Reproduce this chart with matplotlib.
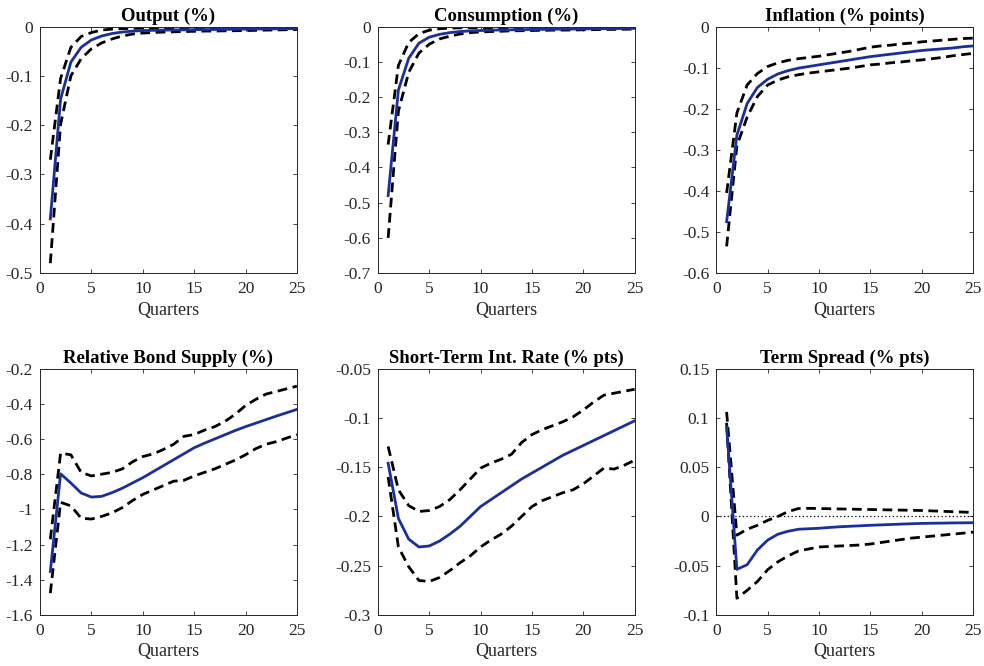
import numpy as np
import matplotlib.pyplot as plt

plt.rcParams["font.family"] = ["Liberation Serif", "DejaVu Serif"]

quarters = np.arange(1, 26)

# impulse responses: median and 90% bands
output_mid = [-0.39, -0.147, -0.072, -0.042, -0.027, -0.019, -0.014, -0.011, -0.009, -0.008,
              -0.0075, -0.007, -0.0068, -0.0065, -0.0062, -0.006, -0.0058, -0.0055, -0.0053, -0.005,
              -0.0048, -0.0046, -0.0044, -0.0042, -0.004]
output_hi = [-0.27, -0.105, -0.042, -0.02, -0.012, -0.007, -0.005, -0.004, -0.0035, -0.003,
             -0.003, -0.003, -0.003, -0.003, -0.003, -0.003, -0.003, -0.003, -0.003, -0.003,
             -0.003, -0.003, -0.003, -0.003, -0.003]
output_lo = [-0.48, -0.198, -0.1, -0.065, -0.045, -0.033, -0.025, -0.019, -0.015, -0.013,
             -0.012, -0.011, -0.0105, -0.01, -0.0095, -0.009, -0.0088, -0.0085, -0.0082, -0.008,
             -0.0075, -0.007, -0.0067, -0.0063, -0.006]

cons_mid = [-0.48, -0.18, -0.09, -0.047, -0.03, -0.022, -0.017, -0.014, -0.012, -0.011,
            -0.01, -0.0095, -0.009, -0.0085, -0.008, -0.0078, -0.0075, -0.007, -0.0068, -0.0065,
            -0.006, -0.0058, -0.0055, -0.0052, -0.005]
cons_hi = [-0.335, -0.11, -0.045, -0.02, -0.01, -0.006, -0.004, -0.0035, -0.003, -0.003,
           -0.003, -0.003, -0.003, -0.003, -0.003, -0.003, -0.003, -0.003, -0.003, -0.003,
           -0.003, -0.003, -0.003, -0.003, -0.003]
cons_lo = [-0.6, -0.24, -0.13, -0.075, -0.05, -0.035, -0.027, -0.021, -0.017, -0.015,
           -0.014, -0.013, -0.012, -0.0115, -0.011, -0.0105, -0.01, -0.0098, -0.0095, -0.009,
           -0.0085, -0.008, -0.0078, -0.0074, -0.007]

infl_mid = [-0.475, -0.264, -0.187, -0.148, -0.128, -0.115, -0.107, -0.101, -0.097, -0.093,
            -0.089, -0.085, -0.081, -0.077, -0.073, -0.07, -0.067, -0.064, -0.061, -0.058,
            -0.056, -0.054, -0.052, -0.049, -0.047]
infl_hi = [-0.405, -0.21, -0.142, -0.114, -0.097, -0.088, -0.082, -0.078, -0.075, -0.072,
           -0.068, -0.064, -0.06, -0.055, -0.05, -0.047, -0.045, -0.042, -0.04, -0.037,
           -0.035, -0.033, -0.031, -0.029, -0.028]
infl_lo = [-0.535, -0.29, -0.22, -0.17, -0.142, -0.13, -0.122, -0.117, -0.113, -0.11,
           -0.107, -0.104, -0.101, -0.097, -0.093, -0.091, -0.088, -0.086, -0.083, -0.081,
           -0.078, -0.075, -0.071, -0.068, -0.065]

bond_mid = [-1.353, -0.798, -0.85, -0.907, -0.93, -0.926, -0.905, -0.88, -0.85, -0.82,
            -0.786, -0.752, -0.718, -0.684, -0.65, -0.624, -0.6, -0.576, -0.552, -0.53,
            -0.51, -0.49, -0.47, -0.451, -0.432]
bond_hi = [-1.17, -0.68, -0.69, -0.79, -0.81, -0.8, -0.79, -0.77, -0.73, -0.7,
           -0.685, -0.66, -0.63, -0.585, -0.575, -0.55, -0.53, -0.5, -0.46, -0.41,
           -0.375, -0.345, -0.33, -0.315, -0.3]
bond_lo = [-1.476, -0.96, -0.98, -1.05, -1.055, -1.04, -1.02, -0.99, -0.95, -0.915,
           -0.89, -0.865, -0.84, -0.835, -0.81, -0.79, -0.77, -0.745, -0.72, -0.69,
           -0.655, -0.63, -0.615, -0.595, -0.575]

rate_mid = [-0.146, -0.202, -0.223, -0.231, -0.23, -0.225, -0.218, -0.21, -0.2, -0.19,
            -0.183, -0.176, -0.169, -0.162, -0.156, -0.15, -0.144, -0.138, -0.133, -0.128,
            -0.123, -0.118, -0.113, -0.108, -0.103]
rate_hi = [-0.129, -0.173, -0.189, -0.195, -0.194, -0.19, -0.183, -0.173, -0.162, -0.151,
           -0.146, -0.142, -0.137, -0.125, -0.117, -0.112, -0.108, -0.104, -0.099, -0.092,
           -0.084, -0.077, -0.075, -0.073, -0.071]
rate_lo = [-0.16, -0.231, -0.251, -0.265, -0.266, -0.262, -0.255, -0.247, -0.24, -0.231,
           -0.224, -0.218, -0.21, -0.2, -0.19, -0.184, -0.18, -0.176, -0.173, -0.167,
           -0.159, -0.151, -0.152, -0.148, -0.143]

spread_mid = [0.091, -0.0537, -0.049, -0.034, -0.024, -0.018, -0.015, -0.013, -0.0125, -0.012,
              -0.0112, -0.0105, -0.01, -0.0095, -0.009, -0.0086, -0.0082, -0.0078, -0.0074, -0.0071,
              -0.0069, -0.0068, -0.0066, -0.0065, -0.0064]
spread_hi = [0.106, -0.019, -0.013, -0.009, -0.004, 0.0, 0.005, 0.008, 0.0082, 0.008,
             0.0078, 0.0076, 0.0074, 0.0072, 0.007, 0.0068, 0.0066, 0.0064, 0.0062, 0.006,
             0.0056, 0.0052, 0.0048, 0.0044, 0.004]
spread_lo = [0.095, -0.083, -0.075, -0.066, -0.054, -0.046, -0.04, -0.035, -0.033, -0.031,
             -0.0305, -0.03, -0.0295, -0.029, -0.028, -0.0265, -0.025, -0.0235, -0.022, -0.021,
             -0.02, -0.019, -0.018, -0.017, -0.016]

titles = ["Output (%)", "Consumption (%)", "Inflation (% points)",
          "Relative Bond Supply (%)", "Short-Term Int. Rate (% pts)", "Term Spread (% pts)"]
series = [(output_mid, output_hi, output_lo), (cons_mid, cons_hi, cons_lo),
          (infl_mid, infl_hi, infl_lo), (bond_mid, bond_hi, bond_lo),
          (rate_mid, rate_hi, rate_lo), (spread_mid, spread_hi, spread_lo)]
ylims = [(-0.5, 0), (-0.7, 0), (-0.6, 0), (-1.6, -0.2), (-0.3, -0.05), (-0.1, 0.15)]
yticks = [np.arange(-0.5, 0.01, 0.1), np.arange(-0.7, 0.01, 0.1), np.arange(-0.6, 0.01, 0.1),
          np.arange(-1.6, -0.19, 0.2), np.arange(-0.3, -0.049, 0.05), np.arange(-0.1, 0.151, 0.05)]

blue = "#1b2f9b"
ink = "#262626"

fig = plt.figure(figsize=(9.84, 6.66), dpi=100)
lefts = [0.0407, 0.384, 0.728]
bottoms = [0.590, 0.0766]

for i, (title, (mid, hi, lo)) in enumerate(zip(titles, series)):
    ax = fig.add_axes([lefts[i % 3], bottoms[i // 3], 0.261, 0.370])
    if i == 5:
        ax.axhline(0, color="k", lw=0.9, ls=(0, (1, 2)))
    ax.plot(quarters, hi, color="k", lw=2, ls=(0, (3.5, 2)))
    ax.plot(quarters, lo, color="k", lw=2, ls=(0, (3.5, 2)))
    ax.plot(quarters, mid, color=blue, lw=2)
    ax.set_xlim(0, 25)
    ax.set_ylim(*ylims[i])
    ax.set_xticks([0, 5, 10, 15, 20, 25])
    ax.set_yticks(yticks[i])
    ax.set_yticklabels(["0" if abs(v) < 1e-9 else "%g" % round(v, 2) for v in yticks[i]])
    ax.tick_params(direction="in", length=3, width=0.6, top=True, right=True,
                   labelsize=12.5, colors=ink, labelcolor=ink)
    ax.tick_params(axis="x", pad=6)
    ax.tick_params(axis="y", pad=5)
    for s in ax.spines.values():
        s.set_color(ink)
        s.set_linewidth(0.7)
    ax.set_title(title, fontsize=13.5, fontweight="bold", pad=4)
    ax.set_xlabel("Quarters", fontsize=13, color=ink, labelpad=3)

fig.savefig("out.png", dpi=100)
